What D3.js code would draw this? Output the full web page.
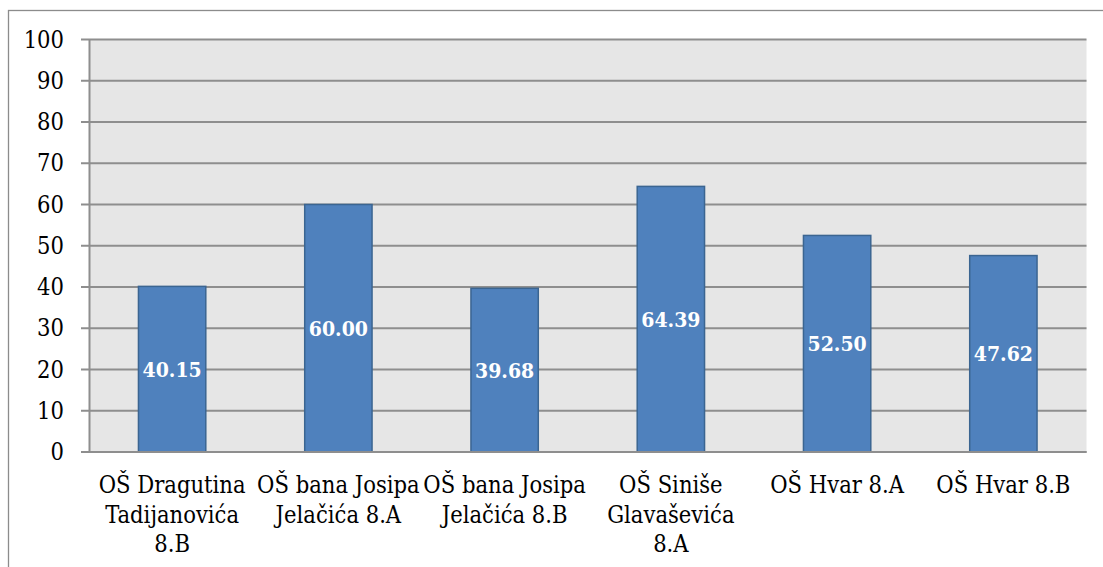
<!DOCTYPE html>
<html>
<head>
<meta charset="utf-8">
<script src="https://cdn.jsdelivr.net/npm/d3@7"></script>
<style>
  html, body { margin: 0; padding: 0; background: #fff; }
</style>
</head>
<body>
<div id="chart"></div>
<script>
(() => {
  const WIDTH = 1103;
  const HEIGHT = 567;
  // Times-like serif is not available here, the condensed DejaVu serif is closest in width
  const FONT = "'DejaVu Serif Condensed', 'DejaVu Serif', serif";

  // -----------------------------
  // Data
  // -----------------------------
  const schools = [
    ["OŠ Dragutina", "Tadijanovića", "8.B"],
    ["OŠ bana Josipa", "Jelačića 8.A"],
    ["OŠ bana Josipa", "Jelačića 8.B"],
    ["OŠ Siniše", "Glavaševića", "8.A"],
    ["OŠ Hvar 8.A"],
    ["OŠ Hvar 8.B"]
  ];
  const scores = [40.15, 60.0, 39.68, 64.39, 52.5, 47.62];
  const yTicks = [0, 10, 20, 30, 40, 50, 60, 70, 80, 90, 100];

  const plot = { left: 89, right: 1086.5, top: 39.5, bottom: 452 };

  const svg = d3
    .select("#chart")
    .append("svg")
    .attr("width", WIDTH)
    .attr("height", HEIGHT);

  // outer chart frame (runs past the right and bottom edge)
  svg.append("rect")
    .attr("x", 8.5).attr("y", 10.5)
    .attr("width", 1200).attr("height", 700)
    .attr("fill", "#fff")
    .attr("stroke", "#8c8c8c")
    .attr("stroke-width", 1.3);

  const keys = schools.map((d, i) => i);

  const x = d3.scaleBand()
    .domain(keys)
    .range([plot.left, plot.right])
    .paddingInner(0.595)
    .paddingOuter(0.2975);

  const y = d3.scaleLinear()
    .domain([0, 100])
    .range([plot.bottom, plot.top]);

  // plot background
  svg.append("rect")
    .attr("x", plot.left).attr("y", plot.top)
    .attr("width", plot.right - plot.left)
    .attr("height", plot.bottom - plot.top)
    .attr("fill", "#e6e6e6");

  // gridlines
  svg.append("g")
    .selectAll("line")
    .data(yTicks)
    .join("line")
    .attr("x1", plot.left - 8)
    .attr("x2", plot.right)
    .attr("y1", (d) => y(d))
    .attr("y2", (d) => y(d))
    .attr("stroke", "#8e8e8e")
    .attr("stroke-width", 2);

  // y axis
  const yAxis = svg.append("g")
    .attr("transform", `translate(${plot.left},0)`)
    .call(d3.axisLeft(y).tickValues(yTicks).tickSize(0).tickPadding(25));
  yAxis.select(".domain")
    .attr("stroke", "#8e8e8e")
    .attr("stroke-width", 2);
  yAxis.selectAll("text")
    .style("font-family", FONT)
    .style("font-size", "23.5px")
    .attr("fill", "#000");

  // bars
  svg.append("g")
    .selectAll("rect")
    .data(scores)
    .join("rect")
    .attr("x", (d, i) => x(i))
    .attr("y", (d) => y(d))
    .attr("width", x.bandwidth())
    .attr("height", (d) => y(0) - y(d))
    .attr("fill", "#4f81bd")
    .attr("stroke", "#3b6591")
    .attr("stroke-width", 1.5);

  // value labels
  svg.append("g")
    .selectAll("text")
    .data(scores)
    .join("text")
    .attr("x", (d, i) => x(i) + x.bandwidth() / 2)
    .attr("y", (d) => (y(d) + y(0)) / 2)
    .attr("dy", "0.36em")
    .attr("text-anchor", "middle")
    .style("font-family", FONT)
    .style("font-size", "21px")
    .style("font-weight", "bold")
    .attr("fill", "#fff")
    .text((d) => d.toFixed(2));

  // category labels
  const cat = svg.append("g")
    .selectAll("text")
    .data(schools)
    .join("text")
    .attr("text-anchor", "middle")
    .style("font-family", FONT)
    .style("font-size", "23.5px")
    .attr("fill", "#000")
    .attr("x", (d, i) => x(i) + x.bandwidth() / 2);

  cat.selectAll("tspan")
    .data((d, i) => d.map((line) => ({ line, i })))
    .join("tspan")
    .attr("x", (d) => x(d.i) + x.bandwidth() / 2)
    .attr("y", (d, j) => 493 + j * 29.5)
    .text((d) => d.line);

  // bottom axis line on top of bars
  svg.append("line")
    .attr("x1", plot.left - 8).attr("x2", plot.right)
    .attr("y1", y(0)).attr("y2", y(0))
    .attr("stroke", "#8e8e8e")
    .attr("stroke-width", 2);
})();
</script>
</body>
</html>
